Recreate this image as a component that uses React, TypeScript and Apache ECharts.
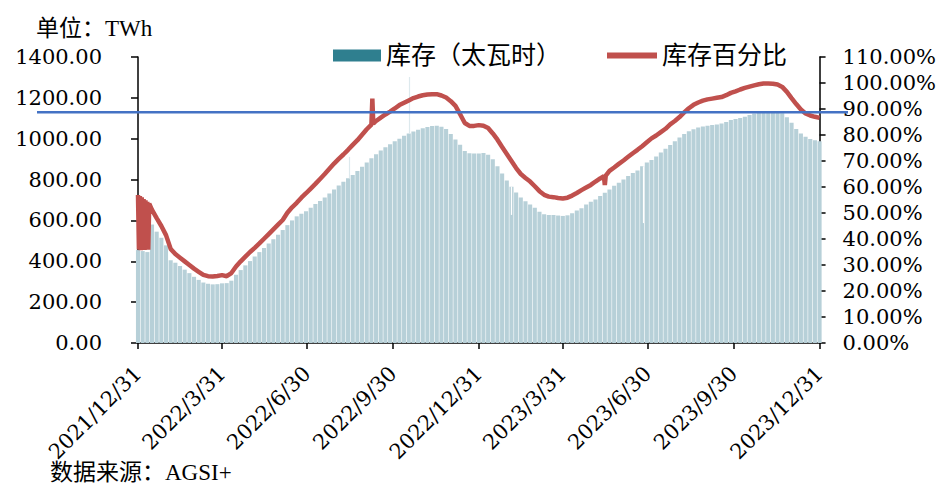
import React, { useEffect, useRef } from 'react';
import * as echarts from 'echarts';

// ---------- data ----------
const tickLabels = ['2021/12/31', '2022/3/31', '2022/6/30', '2022/9/30', '2022/12/31', '2023/3/31', '2023/6/30', '2023/9/30', '2023/12/31'];

// day offsets from 2021/12/31 for the storage samples
const storageDays = [
  0, 5, 10, 15, 20, 25, 30, 35, 40, 45, 50, 55, 60, 65, 70, 75, 80, 85, 90, 95,
  100, 105, 110, 115, 120, 125, 130, 135, 140, 145, 150, 155, 160, 165, 170, 175, 180, 185, 190, 195,
  200, 205, 210, 215, 220, 225, 230, 235, 240, 245, 250, 255, 260, 265, 270, 275, 280, 285, 290, 295,
  300, 305, 310, 315, 320, 325, 330, 335, 340, 345, 350, 355, 360, 365, 370, 375, 380, 385, 390, 395,
  400, 405, 410, 415, 420, 425, 430, 435, 440, 445, 450, 455, 460, 465, 470, 475, 480, 485, 490, 495,
  500, 505, 510, 515, 520, 525, 530, 535, 540, 545, 550, 555, 560, 565, 570, 575, 580, 585, 590, 595,
  600, 605, 610, 615, 620, 625, 630, 635, 640, 645, 650, 655, 660, 665, 670, 675, 680, 685, 690, 695,
  700, 705, 710, 715, 720, 725, 730,
];
// storage, TWh
const storage = [
  455, 450, 445, 580, 545, 515, 478, 405, 393, 377, 359, 342, 324, 309, 296, 290, 287, 288, 292, 293,
  305, 334, 357, 380, 401, 423, 445, 465, 487, 508, 530, 553, 577, 600, 620, 633, 645, 662, 680, 695,
  712, 732, 752, 771, 789, 806, 822, 842, 863, 883, 904, 924, 942, 958, 973, 987, 1000, 1014, 1026, 1035,
  1044, 1051, 1057, 1062, 1063, 1058, 1047, 1023, 996, 970, 940, 929, 928, 928, 930, 922, 900, 865, 830, 795,
  765, 737, 712, 694, 678, 662, 643, 630, 627, 627, 624, 622, 625, 635, 648, 660, 678, 692, 702, 719,
  736, 752, 770, 785, 800, 817, 832, 845, 865, 884, 896, 913, 932, 951, 969, 988, 1006, 1023, 1036, 1046,
  1055, 1060, 1064, 1067, 1070, 1075, 1082, 1091, 1096, 1101, 1107, 1116, 1124, 1127, 1128, 1128, 1128, 1127, 1125, 1105,
  1078, 1048, 1025, 1010, 998, 992, 988,
];
// single-day outliers in storage
const spikeDays = [226, 291];
const spikeValues = [911, 1302];
const dipDays = [400, 541];
const dipValues = [627, 587];

// fill percentage (%)
const pctDays = [
  0, 1, 2, 3, 4, 5, 6, 7, 8, 9, 10, 11, 12,
  15, 20, 25, 30, 35, 40, 45, 50, 55, 60, 65, 70, 75, 80, 85, 90, 95,
  100, 105, 110, 115, 120, 125, 130, 135, 140, 145, 150, 155, 160, 165, 170, 175, 180, 185, 190, 195,
  200, 205, 210, 215, 220, 225, 230, 235, 240, 245, 250, 251, 252, 255, 260, 265, 270, 275, 280, 285, 290, 295,
  300, 305, 310, 315, 320, 325, 330, 335, 340, 345, 350, 355, 360, 365, 370, 375, 380, 385, 390, 395,
  400, 405, 410, 415, 420, 425, 430, 435, 440, 445, 450, 455, 460, 465, 470, 475, 480, 485, 490, 495,
  499, 500, 501, 505, 510, 515, 520, 525, 530, 535, 540, 545, 550, 555, 560, 565, 570, 575, 580, 585, 590, 595,
  600, 605, 610, 615, 620, 625, 630, 635, 640, 645, 650, 655, 660, 665, 670, 675, 680, 685, 690, 695,
  700, 705, 710, 715, 720, 725, 730,
];
const pct = [
  56.9, 36.0, 56.5, 35.7, 56.0, 36.2, 55.4, 35.8, 54.9, 36.1, 54.3, 35.9, 53.6,
  51.2, 48.0, 45.0, 41.5, 36.2, 34.2, 32.8, 31.4, 30.0, 28.6, 27.4, 26.2, 25.7, 25.6, 25.8, 26.1, 25.7,
  26.9, 29.4, 31.4, 33.2, 35.0, 36.6, 38.3, 40.1, 41.9, 43.7, 45.5, 47.3, 50.1, 52.2, 53.9, 55.9, 57.6, 59.4, 61.2, 63.1,
  65.0, 67.0, 69.0, 70.8, 72.5, 74.3, 76.2, 78.0, 80.1, 82.2, 84.0, 94.0, 84.4, 85.4, 86.7, 87.9, 89.0, 90.2, 91.5, 92.4, 93.3, 94.2,
  94.8, 95.3, 95.6, 95.7, 95.7, 95.2, 94.4, 93.0, 91.2, 88.0, 84.6, 83.5, 83.5, 83.8, 83.6, 82.7, 80.6, 78.2, 75.4, 72.7,
  70.0, 67.3, 65.0, 63.5, 62.1, 60.3, 58.4, 57.0, 56.3, 56.1, 55.8, 55.6, 55.9, 56.7, 57.7, 58.8, 59.8, 60.8, 62.1, 63.3,
  64.1, 60.8, 64.4, 66.2, 67.5, 68.9, 70.2, 71.6, 73.0, 74.3, 75.7, 77.2, 78.7, 79.8, 81.1, 82.4, 84.1, 85.4, 86.9, 88.7, 90.3, 91.6,
  92.5, 93.2, 93.7, 94.0, 94.3, 94.6, 95.3, 96.2, 96.8, 97.5, 98.1, 98.6, 99.1, 99.5, 99.8, 99.8, 99.7, 99.4, 98.5, 96.6,
  94.2, 91.9, 89.8, 88.3, 87.5, 87.0, 86.6,
];
// horizontal reference level (TWh, left axis)
const referenceLevel = 1130;

// ---------- helpers ----------
const BASE = Date.UTC(2021, 11, 31);
const dateToDay = (s: string) => {
  const [y, m, d] = s.split('/').map(Number);
  return Math.round((Date.UTC(y, m - 1, d) - BASE) / 86400000);
};
const tickDays = tickLabels.map(dateToDay);
const nearestStorage = (day: number) => {
  let best = 0;
  storageDays.forEach((d, i) => {
    if (Math.abs(d - day) < Math.abs(storageDays[best] - day)) best = i;
  });
  return storage[best];
};

const FONT = "'Liberation Serif', 'Noto Sans CJK SC', serif";
const NUM_FONT = "'DejaVu Serif', 'Liberation Serif', serif";
const BAR_NAME = '库存（太瓦时）';
const LINE_NAME = '库存百分比';

export default function App() {
  const ref = useRef<HTMLDivElement>(null);
  useEffect(() => {
    if (!ref.current) return;
    const chart = echarts.init(ref.current, undefined, { renderer: 'svg' });

    const markData: any[] = [];
    spikeDays.forEach((d, i) => {
      markData.push([
        { coord: [d, nearestStorage(d)], lineStyle: { color: '#dde9ed', width: 1.2 } },
        { coord: [d, spikeValues[i]] },
      ]);
    });
    dipDays.forEach((d, i) => {
      markData.push([
        { coord: [d, dipValues[i]], lineStyle: { color: '#ffffff', width: 1.2 } },
        { coord: [d, nearestStorage(d)] },
      ]);
    });

    const axisNum = { fontSize: 21, fontFamily: NUM_FONT, color: '#000', lineHeight: 22 };

    chart.setOption({
      animation: false,
      backgroundColor: '#fff',
      title: [
        { text: '单位：TWh', left: 36, top: 17, padding: 0, textStyle: { fontSize: 23, fontWeight: 'normal', fontFamily: FONT, color: '#000' } },
        { text: '数据来源：AGSI+', left: 50, top: 461, padding: 0, textStyle: { fontSize: 23, fontWeight: 'normal', fontFamily: FONT, color: '#000' } },
      ],
      legend: [
        {
          data: [{ name: BAR_NAME, icon: 'rect', itemStyle: { color: '#2f7f8f' } }],
          left: 333, top: 43, padding: 0, itemWidth: 48, itemHeight: 12, itemGap: 5,
          textStyle: { fontSize: 25, fontFamily: FONT, color: '#000' },
        },
        {
          data: [{ name: LINE_NAME, icon: 'rect' }],
          left: 607, top: 43, padding: 0, itemWidth: 50, itemHeight: 6, itemGap: 5,
          textStyle: { fontSize: 25, fontFamily: FONT, color: '#000' },
        },
      ],
      grid: { left: 138, right: 117, top: 57, bottom: 142, containLabel: false },
      xAxis: {
        type: 'value', min: 0, max: 730,
        axisLine: { show: true, onZero: false, lineStyle: { color: '#000', width: 1.5 } },
        axisTick: { show: true, customValues: tickDays, length: 6, lineStyle: { color: '#000', width: 1.5 } },
        axisLabel: {
          customValues: tickDays, rotate: 45, margin: 27, ...axisNum,
          formatter: (v: number) => {
            const i = tickDays.indexOf(Math.round(v));
            return i >= 0 ? tickLabels[i] : '';
          },
        },
        splitLine: { show: false },
      },
      yAxis: [
        {
          type: 'value', min: 0, max: 1400, interval: 200, position: 'left',
          axisLine: { show: true, lineStyle: { color: '#000', width: 1.5 } },
          axisTick: { show: true, length: 7, lineStyle: { color: '#000', width: 1.5 } },
          axisLabel: { margin: 36, ...axisNum, formatter: (v: number) => v.toFixed(2) },
          splitLine: { show: false },
        },
        {
          type: 'value', min: 0, max: 110, interval: 10, position: 'right',
          axisLine: { show: true, lineStyle: { color: '#000', width: 1.5 } },
          axisTick: { show: true, length: 6, lineStyle: { color: '#000', width: 1.5 } },
          axisLabel: { margin: 23, ...axisNum, formatter: (v: number) => v.toFixed(2) + '%' },
          splitLine: { show: false },
        },
      ],
      series: [
        {
          name: BAR_NAME, type: 'bar', xAxisIndex: 0, yAxisIndex: 0,
          data: storageDays.map((d, i) => [d, storage[i]]),
          barWidth: 4.1,
          itemStyle: { color: '#b7d0d8' },
          silent: true,
          markLine: {
            silent: true, symbol: ['none', 'none'], label: { show: false },
            lineStyle: { type: 'solid' }, animation: false, data: markData,
          },
          z: 2,
        },
        {
          name: LINE_NAME, type: 'line', xAxisIndex: 0, yAxisIndex: 1,
          data: pctDays.map((d, i) => [d, pct[i]]),
          showSymbol: false, symbol: 'none',
          lineStyle: { width: 4.5, color: '#c0504d' },
          itemStyle: { color: '#c0504d' },
          silent: true,
          z: 6,
        },
      ],
    });

    const y = chart.convertToPixel({ yAxisIndex: 0 }, referenceLevel) as number;
    chart.setOption({
      graphic: [
        { type: 'line', z: 100, silent: true, shape: { x1: 37, y1: y, x2: 848, y2: y }, style: { stroke: '#4472c4', lineWidth: 2.5 } },
      ],
    });

    return () => chart.dispose();
  }, []);
  return <div ref={ref} style={{ position: 'fixed', left: 0, top: 0, width: 939, height: 485, background: '#fff' }} />;
}
